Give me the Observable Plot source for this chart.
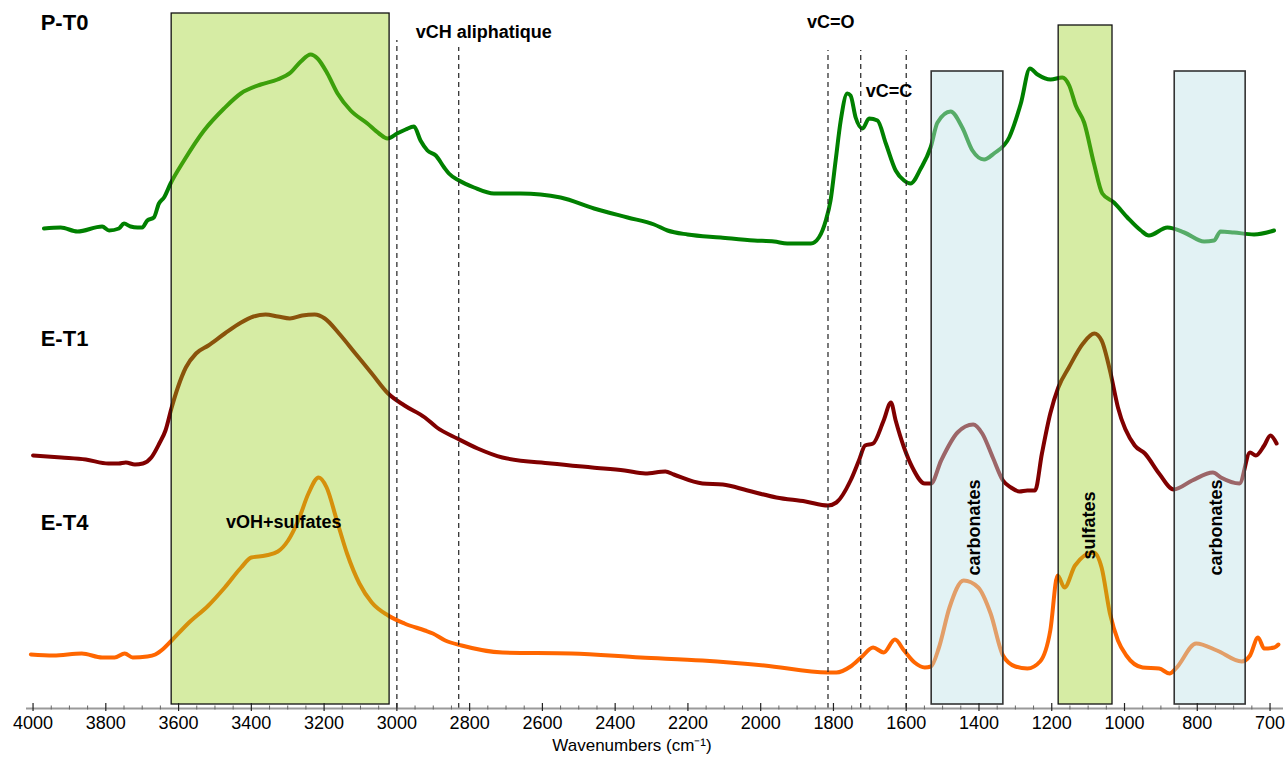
<!DOCTYPE html>
<html><head><meta charset="utf-8">
<script src="https://cdn.jsdelivr.net/npm/d3@7"></script>
<script src="https://cdn.jsdelivr.net/npm/@observablehq/plot@0.6"></script>
<style>html,body{margin:0;padding:0;background:#fff;overflow:hidden}</style>
</head><body><div id="chart"></div>
<script>
// ---- spectra (wavenumber cm-1, offset absorbance a.u.) ----
const pt0Wn = [3970,3924,3878,3810,3791,3764,3750,3732,3713,3700,3686,3668,3654,3640,3622,3585,3530,3475,3429,3374,3328,3292,3264,3237,3218,3191,3163,3127,3081,3049,3026,2999,2976,2953,2935,2916,2893,2870,2857,2829,2788,2733,2660,2550,2458,2366,2293,2256,2201,2110,2018,1963,1927,1862,1840,1821,1808,1794,1780,1762,1753,1739,1720,1702,1679,1656,1629,1606,1588,1560,1533,1514,1478,1446,1418,1386,1359,1317,1285,1260,1239,1203,1171,1152,1134,1111,1084,1061,1029,992,955,933,882,836,781,754,736,699,644,589];
const pt0Abs = [4.83,4.84,4.80,4.85,4.81,4.83,4.88,4.85,4.84,4.84,4.91,4.94,5.08,5.14,5.28,5.51,5.81,6.03,6.18,6.27,6.32,6.39,6.50,6.57,6.53,6.38,6.18,6.01,5.88,5.78,5.73,5.78,5.82,5.85,5.71,5.61,5.56,5.44,5.38,5.31,5.24,5.18,5.18,5.14,5.03,4.94,4.87,4.81,4.77,4.74,4.71,4.70,4.68,4.68,4.74,4.91,5.11,5.51,5.91,6.18,6.16,5.94,5.83,5.93,5.91,5.68,5.41,5.31,5.28,5.43,5.64,5.89,6.00,5.84,5.61,5.52,5.58,5.74,6.08,6.43,6.37,6.32,6.34,6.26,6.06,5.89,5.48,5.18,5.09,4.94,4.81,4.76,4.84,4.79,4.70,4.71,4.80,4.79,4.77,4.81];

const et1Wn = [4000,3922,3855,3793,3765,3745,3720,3698,3675,3653,3636,3619,3602,3580,3552,3518,3473,3428,3394,3361,3327,3294,3260,3226,3198,3159,3114,3069,3024,2979,2923,2890,2834,2778,2710,2576,2463,2374,2317,2262,2239,2160,2104,2036,1957,1877,1815,1792,1753,1730,1713,1691,1662,1642,1629,1606,1583,1549,1532,1504,1459,1416,1391,1362,1334,1312,1289,1267,1246,1227,1204,1182,1153,1114,1083,1063,1040,1018,972,944,905,865,814,757,735,684,655,639,616,599,582];
const et1Abs = [2.56,2.54,2.52,2.48,2.48,2.49,2.47,2.48,2.54,2.68,2.81,3.04,3.24,3.44,3.58,3.66,3.78,3.89,3.95,3.97,3.95,3.93,3.96,3.97,3.93,3.78,3.58,3.38,3.18,3.06,2.94,2.84,2.73,2.63,2.54,2.48,2.44,2.41,2.38,2.40,2.37,2.28,2.27,2.21,2.14,2.10,2.06,2.09,2.31,2.51,2.66,2.68,2.91,3.09,2.91,2.64,2.44,2.28,2.28,2.51,2.79,2.87,2.78,2.54,2.31,2.24,2.20,2.21,2.21,2.58,2.98,3.24,3.44,3.68,3.78,3.71,3.41,3.04,2.66,2.58,2.38,2.22,2.31,2.39,2.34,2.28,2.59,2.56,2.66,2.76,2.68];

const et4Wn = [4006,3944,3866,3810,3776,3748,3726,3686,3664,3641,3619,3574,3518,3473,3428,3400,3361,3327,3299,3271,3243,3215,3193,3165,3137,3103,3069,3024,2979,2923,2901,2867,2822,2710,2520,2330,2160,1990,1815,1792,1753,1724,1691,1662,1631,1606,1577,1549,1532,1510,1481,1442,1402,1368,1334,1300,1267,1232,1204,1184,1165,1136,1085,1063,1040,1018,995,950,905,876,859,803,746,678,655,633,616,588,577];
const et4Abs = [0.57,0.56,0.58,0.54,0.54,0.58,0.54,0.55,0.57,0.63,0.71,0.88,1.06,1.24,1.44,1.54,1.56,1.60,1.71,1.91,2.18,2.34,2.24,1.91,1.58,1.28,1.09,0.96,0.88,0.81,0.78,0.71,0.66,0.59,0.58,0.54,0.51,0.46,0.39,0.39,0.45,0.54,0.64,0.59,0.72,0.61,0.49,0.44,0.45,0.64,1.04,1.31,1.24,0.98,0.56,0.45,0.43,0.50,0.81,1.36,1.24,1.46,1.59,1.44,0.98,0.71,0.56,0.44,0.43,0.38,0.43,0.68,0.61,0.50,0.56,0.74,0.63,0.64,0.67];

// ---- series labels ----
const seriesNames = ["P-T0", "E-T1", "E-T4"];
const seriesColors = ["#008000", "#800000", "#ff6600"];
const seriesLabelWn = [3979, 3979, 3979];
const seriesLabelAbs = [6.89, 3.73, 1.89];

// ---- highlighted bands ----
const bandFrom = [3619, 1530, 1181, 862];
const bandTo = [3020, 1333, 1033, 667];
const bandTop = [6.98, 6.40, 6.86, 6.40];
const bandKind = ["sulf", "carb", "sulf", "carb"];
const bandBottom = 0.07;

// ---- dashed reference lines ----
const dashWn = [3000, 2830, 1815, 1725, 1600];
const dashTop = [6.71, 6.64, 6.61, 6.61, 6.61];

// ---- annotations ----
const noteText = ["vCH aliphatique", "vC=O", "vC=C"];
const noteWn = [2948, 1873, 1711];
const noteAbs = [6.79, 6.89, 6.20];
const ohText = "vOH+sulfates";
const ohWn = 3311, ohAbs = 1.89;
const vertText = ["carbonates", "sulfates", "carbonates"];
const vertWn = [1412, 1096, 747];
const vertAbs = [1.84, 1.86, 1.84];

// ---- axis ----
const tickValues = [4000,3800,3600,3400,3200,3000,2800,2600,2400,2200,2000,1800,1600,1400,1200,1000,800,600];
const tickLabels = ["4000","3800","3600","3400","3200","3000","2800","2600","2400","2200","2000","1800","1600","1400","1200","1000","800","700"];
const xLabel = "Wavenumbers (cm\u207B\u00B9)";

const tickLabelOf = new Map(tickValues.map((v, i) => [v, tickLabels[i]]));
const minorTicks = d3.range(4000, 560, -50).filter(v => v % 200 !== 0);

const series = [];
[[pt0Wn, pt0Abs], [et1Wn, et1Abs], [et4Wn, et4Abs]].forEach(([w, a], s) => {
  w.forEach((v, i) => series.push({s, wn: v, a: a[i]}));
});
const bands = bandFrom.map((f, i) => ({x1: f, x2: bandTo[i], top: bandTop[i], kind: bandKind[i]}));
const dashes = dashWn.map((w, i) => ({wn: w, top: dashTop[i]}));

const font = "'Liberation Sans', Arial, Helvetica, sans-serif";

const svg = Plot.plot({
  width: 1285,
  height: 762,
  marginLeft: 26,
  marginRight: 2,
  marginTop: 0,
  marginBottom: 54,
  style: {fontFamily: font, background: "white", color: "#000"},
  x: {domain: [4018, 563], axis: null},
  y: {domain: [0.03, 7.11], axis: null},
  marks: [
    ...[0, 1, 2].map(s => Plot.line(series.filter(d => d.s === s), {
      x: "wn", y: "a", stroke: seriesColors[s], strokeWidth: 4, curve: "monotone-x"
    })),
    Plot.rect(bands.filter(d => d.kind === "sulf"), {
      x1: "x1", x2: "x2", y1: bandBottom, y2: "top",
      fill: "#98cf1c", fillOpacity: 0.4, stroke: "#111", strokeWidth: 1.3
    }),
    Plot.rect(bands.filter(d => d.kind === "carb"), {
      x1: "x1", x2: "x2", y1: bandBottom, y2: "top",
      fill: "#bfe2e7", fillOpacity: 0.45, stroke: "#333", strokeWidth: 1.6
    }),
    Plot.ruleX(dashes, {x: "wn", y1: 0.03, y2: "top", stroke: "#222", strokeWidth: 1.2, strokeDasharray: "5,4"}),
    // axis
    Plot.ruleY([0.03], {stroke: "#9a9a9a", strokeWidth: 2}),
    Plot.ruleX(minorTicks, {x: d => d, y1: 0.015, y2: 0.055, stroke: "#666", strokeWidth: 1}),
    Plot.ruleX(tickValues, {x: d => d, y1: 0.0, y2: 0.08, stroke: "#222", strokeWidth: 1.2}),
    Plot.axisX(tickValues, {tickSize: 0, tickPadding: 8, tickFormat: d => tickLabelOf.get(d), fontSize: 18, label: null}),
    Plot.text([xLabel], {frameAnchor: "bottom", dx: -23, dy: 42, fontSize: 17, text: d => d}),
    // labels
    Plot.text(seriesNames, {x: (d, i) => seriesLabelWn[i], y: (d, i) => seriesLabelAbs[i], text: d => d,
      textAnchor: "start", fontSize: 22, fontWeight: "bold"}),
    Plot.text(noteText, {x: (d, i) => noteWn[i], y: (d, i) => noteAbs[i], text: d => d,
      textAnchor: "start", fontSize: 18, fontWeight: "bold"}),
    Plot.text([ohText], {x: ohWn, y: ohAbs, text: d => d, textAnchor: "middle", fontSize: 18, fontWeight: "bold"}),
    Plot.text(vertText, {x: (d, i) => vertWn[i], y: (d, i) => vertAbs[i], text: d => d,
      rotate: -90, textAnchor: "middle", fontSize: 18, fontWeight: "bold"})
  ]
});

document.getElementById("chart").appendChild(svg);
</script></body></html>
